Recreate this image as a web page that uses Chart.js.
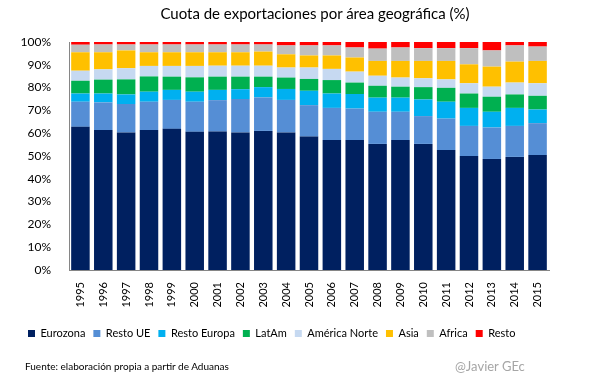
<!DOCTYPE html>
<html>
<head>
<meta charset="utf-8">
<script src="https://cdn.jsdelivr.net/npm/chart.js@4.4.1/dist/chart.umd.min.js"></script>
<style>
  body { margin: 0; background: #fff; }
  #wrap { position: relative; width: 605px; height: 378px; font-family: Lato, "Open Sans", sans-serif; }
  #titulo { position: absolute; top: 4px; left: 0; width: 630px; text-align: center; font-size: 15px; color: #000; }
  #fuente { position: absolute; top: 360px; left: 25px; font-size: 10px; color: #000; }
  #firma { position: absolute; top: 358px; left: 455px; font-size: 13px; color: #a6a6a6; }
</style>
</head>
<body>
<div id="wrap">
  <canvas id="grafico" width="605" height="378"></canvas>
  <div id="titulo">Cuota de exportaciones por área geográfica (%)</div>
  <div id="fuente">Fuente: elaboración propia a partir de Aduanas</div>
  <div id="firma">@Javier GEc</div>
</div>
<script>
const years = ['1995', '1996', '1997', '1998', '1999', '2000', '2001', '2002', '2003', '2004', '2005',
    '2006', '2007', '2008', '2009', '2010', '2011', '2012', '2013', '2014', '2015'];

const eurozona = [62.8, 61.4, 60.3, 61.4, 61.9, 60.6, 60.7, 60.3, 61.0, 60.3, 58.5, 57.0, 57.0, 55.3, 57.0, 55.3, 52.6, 50.0, 48.7, 49.6, 50.4];
const restoUE = [11.0, 12.1, 12.5, 12.4, 12.7, 13.2, 13.8, 14.7, 14.7, 14.3, 13.8, 14.1, 13.8, 14.1, 12.4, 12.2, 13.8, 13.2, 13.8, 13.6, 14.0];
const restoEuropa = [3.6, 3.9, 4.2, 4.4, 4.4, 4.4, 4.5, 4.3, 4.5, 4.8, 6.3, 6.3, 6.4, 6.2, 6.2, 7.3, 7.4, 7.9, 6.9, 7.9, 6.0];
const latam = [5.6, 6.1, 6.6, 6.7, 5.8, 6.3, 5.8, 5.5, 4.6, 5.0, 5.2, 5.9, 5.0, 5.2, 4.8, 5.4, 6.1, 6.3, 6.6, 5.9, 6.0];
const americaNorte = [4.4, 4.5, 4.9, 4.6, 4.7, 5.0, 4.8, 4.8, 4.8, 4.4, 5.0, 4.9, 4.8, 4.4, 4.0, 3.9, 3.7, 4.5, 4.4, 5.2, 5.5];
const asia = [8.1, 7.5, 7.8, 6.0, 6.0, 6.0, 5.9, 5.9, 6.2, 5.8, 5.3, 5.9, 6.2, 6.5, 7.3, 7.6, 8.1, 8.3, 8.8, 9.2, 9.8];
const africa = [3.3, 3.4, 2.6, 3.4, 3.4, 3.4, 3.4, 3.4, 3.1, 3.9, 4.4, 4.4, 4.4, 5.4, 5.9, 5.6, 5.6, 7.1, 7.1, 7.1, 6.3];
const resto = [1.2, 1.1, 1.1, 1.1, 1.1, 1.1, 1.1, 1.1, 1.1, 1.5, 1.5, 1.5, 2.4, 2.9, 2.4, 2.7, 2.7, 2.7, 3.7, 1.5, 2.0];

const yTicks = [0, 10, 20, 30, 40, 50, 60, 70, 80, 90, 100];

Chart.defaults.font.family = 'Lato, "Open Sans", sans-serif';
Chart.defaults.color = '#000';

function serie(label, data, color) {
    return {
        label: label,
        data: data,
        backgroundColor: color,
        borderWidth: 0,
        categoryPercentage: 1.0,
        barPercentage: 0.81
    };
}

const ctx = document.getElementById('grafico');

new Chart(ctx, {
    type: 'bar',
    data: {
        labels: years,
        datasets: [
            serie('Eurozona', eurozona, '#002060'),
            serie('Resto UE', restoUE, '#558ed5'),
            serie('Resto Europa', restoEuropa, '#00b0f0'),
            serie('LatAm', latam, '#00b050'),
            serie('América Norte', americaNorte, '#c6d9f1'),
            serie('Asia', asia, '#ffc000'),
            serie('Africa', africa, '#bfbfbf'),
            serie('Resto', resto, '#ff0000')
        ]
    },
    options: {
        responsive: false,
        animation: false,
        layout: {
            padding: { top: 42, left: 20, right: 56, bottom: 29 }
        },
        scales: {
            x: {
                stacked: true,
                grid: { display: false },
                border: { display: true, color: '#868686' },
                ticks: {
                    minRotation: 90,
                    maxRotation: 90,
                    autoSkip: false,
                    font: { size: 11 },
                    padding: 4
                },
                afterFit: function (scale) { scale.height = 50; }
            },
            y: {
                stacked: true,
                min: 0,
                max: 100,
                afterBuildTicks: function (scale) {
                    scale.ticks = yTicks.map(v => ({ value: v }));
                },
                grid: { display: false },
                border: { display: true, color: '#868686' },
                ticks: {
                    font: { size: 12 },
                    padding: 10,
                    callback: function (v) { return v + '%'; }
                },
                afterFit: function (scale) { scale.width = 49; }
            }
        },
        plugins: {
            tooltip: { enabled: false },
            legend: {
                position: 'bottom',
                align: 'start',
                labels: {
                    boxWidth: 7,
                    boxHeight: 7,
                    padding: 8,
                    font: { size: 11 },
                    color: '#000'
                }
            }
        }
    }
});
</script>
</body>
</html>
